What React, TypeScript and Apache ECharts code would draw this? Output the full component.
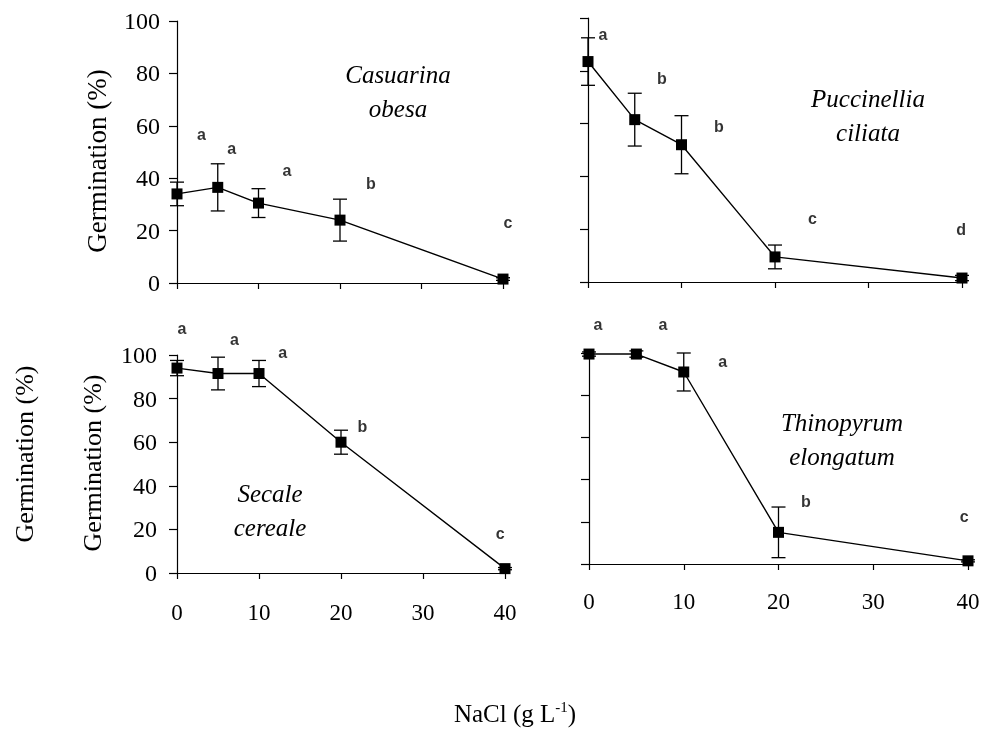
import React, { useEffect, useRef } from "react";
import * as echarts from "echarts";

const nacl = [0, 5, 10, 20, 40];
const xTicks = [0, 10, 20, 30, 40];

const casuarina = [34, 36.5, 30.5, 24, 1.5];
const casuarinaErr = [4.5, 9, 5.5, 8, 0.5];
const casuarinaLetters = ["a", "a", "a", "b", "c"];
const casuarinaLetterX = [3.0, 6.7, 13.5, 23.8, 40.6];
const casuarinaLetterY = [56.8, 51.5, 43, 38, 23];

const puccinellia = [83.5, 61.5, 52, 9.5, 1.5];
const puccinelliaErr = [9, 10, 11, 4.5, 1];
const puccinelliaLetters = ["a", "b", "b", "c", "d"];
const puccinelliaLetterX = [1.6, 7.9, 14, 24, 39.9];
const puccinelliaLetterY = [93.6, 77, 59, 24, 19.7];

const secale = [94, 91.5, 91.5, 60, 2];
const secaleErr = [3.5, 7.5, 6, 5.5, 0.5];
const secaleLetters = ["a", "a", "a", "b", "c"];
const secaleLetterX = [0.6, 7.0, 12.9, 22.6, 39.4];
const secaleLetterY = [112, 107, 101, 67, 18.3];

const thinopyrum = [99.5, 99.5, 91, 15, 1.5];
const thinopyrumErr = [1, 1.5, 9, 12, 0.5];
const thinopyrumLetters = ["a", "a", "a", "b", "c"];
const thinopyrumLetterX = [0.95, 7.8, 14.1, 22.9, 39.6];
const thinopyrumLetterY = [113.7, 113.7, 96, 29.4, 22.3];

const titles = ["Casuarina\nobesa", "Puccinellia\nciliata", "Secale\ncereale", "Thinopyrum\nelongatum"];

const SERIF = "Liberation Serif";
const SANS = "Liberation Sans";

export default function App() {
  const ref = useRef<HTMLDivElement>(null);

  useEffect(() => {
    if (!ref.current) return;
    const chart = echarts.init(ref.current, undefined, { renderer: "svg" });

    const grids = [
      { left: 177, top: 21, width: 326, height: 262 },
      { left: 588, top: 18, width: 374, height: 264 },
      { left: 177, top: 355, width: 328, height: 218 },
      { left: 589, top: 353, width: 379, height: 211 },
    ];
    const showX = [false, false, true, true];
    const showY = [true, false, true, false];
    const xMargin = [0, 0, 28, 26];
    const yMargin = [17, 0, 20, 0];
    const titlePos = [
      [398, 91],
      [868, 115],
      [270, 510],
      [842, 439],
    ];

    const xAxis = grids.map((_, i) => ({
      type: "value",
      gridIndex: i,
      min: 0,
      max: 40,
      interval: 10,
      axisLine: { show: true, onZero: false, lineStyle: { color: "#000", width: 1.2 } },
      axisTick: { show: true, inside: false, length: 6, lineStyle: { color: "#000", width: 1.2 } },
      axisLabel: {
        show: showX[i],
        margin: xMargin[i],
        color: "#000",
        fontFamily: SERIF,
        fontSize: 23,
        rotate: 0.004,
        customValues: xTicks,
      },
      splitLine: { show: false },
    }));

    const yAxis = grids.map((_, i) => ({
      type: "value",
      gridIndex: i,
      min: 0,
      max: 100,
      interval: 20,
      axisLine: { show: true, onZero: false, lineStyle: { color: "#000", width: 1.2 } },
      axisTick: { show: true, inside: false, length: 8, lineStyle: { color: "#000", width: 1.2 } },
      axisLabel: {
        show: showY[i],
        margin: yMargin[i],
        color: "#000",
        fontFamily: SERIF,
        fontSize: 24,
        rotate: 0.004,
      },
      splitLine: { show: false },
    }));

    const panels = [
      { v: casuarina, e: casuarinaErr, l: casuarinaLetters, lx: casuarinaLetterX, ly: casuarinaLetterY },
      { v: puccinellia, e: puccinelliaErr, l: puccinelliaLetters, lx: puccinelliaLetterX, ly: puccinelliaLetterY },
      { v: secale, e: secaleErr, l: secaleLetters, lx: secaleLetterX, ly: secaleLetterY },
      { v: thinopyrum, e: thinopyrumErr, l: thinopyrumLetters, lx: thinopyrumLetterX, ly: thinopyrumLetterY },
    ];

    const series: any[] = [];
    panels.forEach((p, i) => {
      series.push({
        type: "custom",
        xAxisIndex: i,
        yAxisIndex: i,
        clip: false,
        data: nacl.map((x, k) => [x, p.v[k], p.e[k]]),
        renderItem: (params: any, api: any) => {
          const x = api.value(0);
          const y = api.value(1);
          const e = api.value(2);
          const top = api.coord([x, y + e]);
          const bot = api.coord([x, y - e]);
          const hw = 7;
          const st = { stroke: "#000", lineWidth: 1.3 };
          return {
            type: "group",
            children: [
              { type: "line", shape: { x1: top[0], y1: top[1], x2: bot[0], y2: bot[1] }, style: st },
              { type: "line", shape: { x1: top[0] - hw, y1: top[1], x2: top[0] + hw, y2: top[1] }, style: st },
              { type: "line", shape: { x1: bot[0] - hw, y1: bot[1], x2: bot[0] + hw, y2: bot[1] }, style: st },
            ],
          };
        },
        z: 2,
      });
      series.push({
        type: "line",
        xAxisIndex: i,
        yAxisIndex: i,
        data: nacl.map((x, k) => [x, p.v[k]]),
        symbol: "rect",
        symbolSize: 11,
        showAllSymbol: true,
        lineStyle: { color: "#000", width: 1.4 },
        itemStyle: { color: "#000" },
        z: 3,
      });
      series.push({
        type: "scatter",
        xAxisIndex: i,
        yAxisIndex: i,
        clip: false,
        symbolSize: 1,
        itemStyle: { color: "rgba(0,0,0,0)" },
        data: p.l.map((t, k) => [p.lx[k], p.ly[k], t]),
        label: {
          show: true,
          position: "inside",
          formatter: (d: any) => d.value[2],
          color: "#000",
          fontFamily: SANS,
          fontSize: 16,
          fontWeight: "bold",
        },
        z: 4,
      });
    });

    const titleStyle = {
      fontFamily: SERIF,
      fontSize: 25,
      fontStyle: "italic",
      fill: "#000",
      align: "center",
      verticalAlign: "middle",
      lineHeight: 34,
    };
    const yLabelStyle = {
      fontFamily: SERIF,
      fontSize: 26,
      fill: "#000",
      align: "center",
      verticalAlign: "middle",
      text: "Germination (%)",
    };

    chart.setOption({
      animation: false,
      grid: grids.map((g) => ({ ...g, containLabel: false })),
      xAxis,
      yAxis,
      series,
      graphic: [
        ...titles.map((t, i) => ({
          type: "text",
          x: titlePos[i][0],
          y: titlePos[i][1],
          rotation: 0.00005,
          style: { ...titleStyle, text: t },
        })),
        { type: "text", x: 97, y: 161, rotation: Math.PI / 2, style: { ...yLabelStyle, fontSize: 27 } },
        { type: "text", x: 92, y: 463, rotation: Math.PI / 2, style: { ...yLabelStyle } },
        { type: "text", x: 24, y: 454, rotation: Math.PI / 2, style: { ...yLabelStyle } },
        {
          type: "text",
          x: 515,
          y: 713,
          style: {
            text: "{n|NaCl (g L}{s|-1}{n|)}",
            align: "center",
            verticalAlign: "middle",
            fill: "#000",
            rich: {
              n: { fontFamily: SERIF, fontSize: 25, fill: "#000", color: "#000" },
              s: { fontFamily: SERIF, fontSize: 15, fill: "#000", color: "#000", padding: [0, 0, 12, 0] },
            },
          },
        },
      ],
    });

    return () => chart.dispose();
  }, []);

  return (
    <div
      ref={ref}
      style={{ position: "fixed", left: 0, top: 0, width: 987, height: 729, fontFamily: "Liberation Serif" }}
    />
  );
}
